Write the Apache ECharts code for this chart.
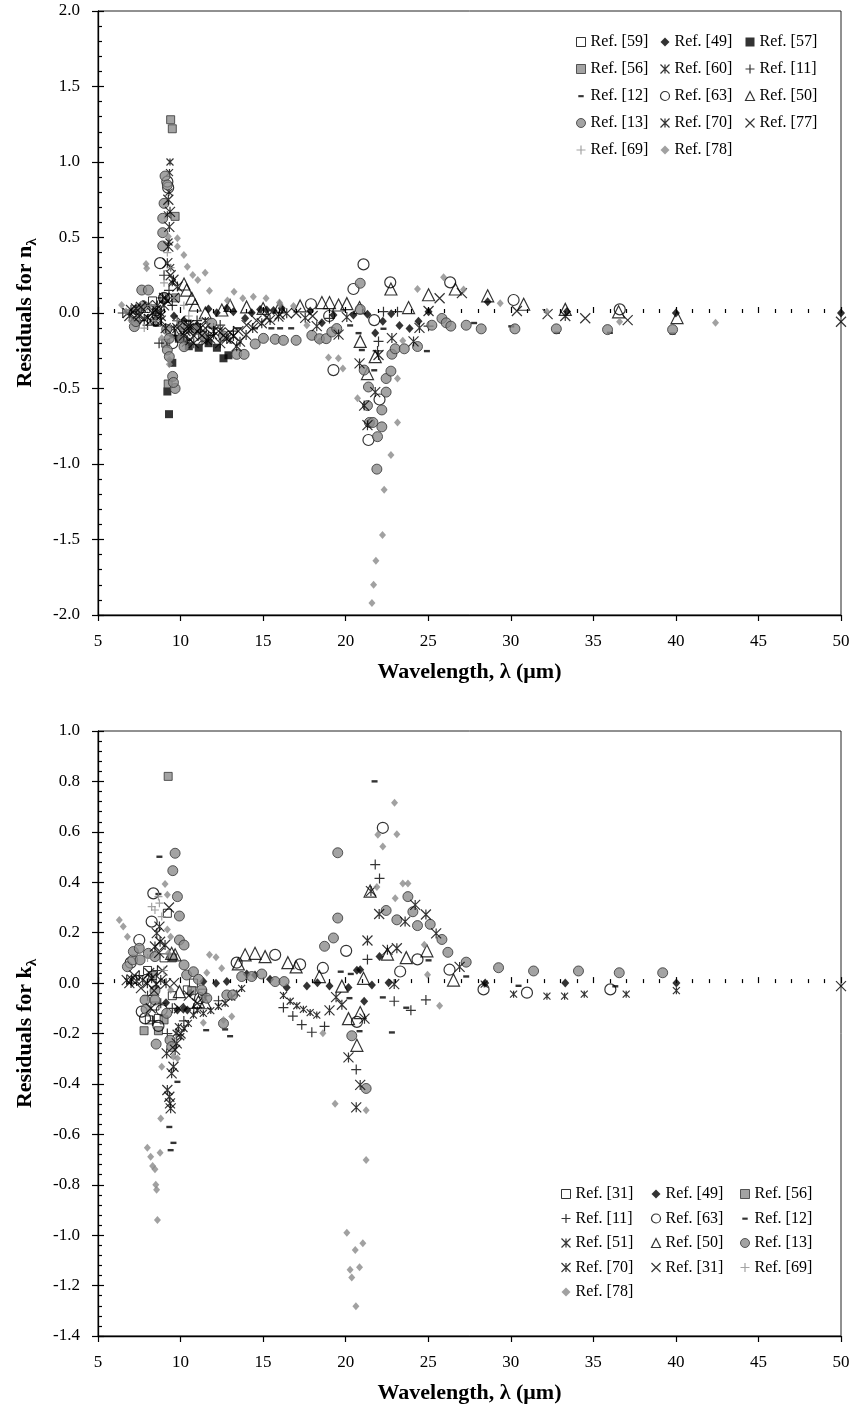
<!DOCTYPE html>
<html>
<head>
<meta charset="utf-8">
<script src="https://cdn.jsdelivr.net/npm/echarts@6.0.0/dist/echarts.min.js"></script>
<style>
html, body { margin: 0; padding: 0; background: #fff; }
#chart { width: 854px; height: 1421px; }
</style>
</head>
<body>
<div id="chart"></div>
<script>
// axis ranges [min, max, interval]
var xRange = [5, 50, 5];
var nRange = [-2, 2, 0.5];
var kRange = [-1.4, 1.0, 0.2];

// ---- top panel: residuals for n ----
var n59 = [[7.9,0.03],[8.3,0.08],[8.6,-0.06],[9.0,0.1],[9.4,-0.12],[10.1,-0.08],[10.9,-0.1],[11.8,-0.12]];
var n49 = [[9.6,-0.02],[10.2,-0.05],[11.0,-0.08],[11.69,0.027],[12.19,0.002],[12.8,0.031],[13.2,0.009],[13.91,-0.035],[14.31,0.002],[14.82,0.024],[15.22,0.02],[15.63,0.016],[16.13,0.031],[17.85,0.013],[18.56,-0.065],[19.26,-0.014],[20.47,-0.014],[21.32,-0.009],[21.79,-0.132],[22.25,-0.054],[22.76,-0.005],[23.26,-0.083],[23.87,-0.103],[24.41,-0.054],[25.02,0.009],[28.6,0.075],[33.4,0.01],[40.0,0.0],[50.0,0.0]];
var n57 = [[9.3,-0.67],[9.2,-0.52],[9.5,-0.33],[9.9,-0.17],[10.5,-0.22],[11.1,-0.23],[11.7,-0.2],[12.2,-0.23],[12.6,-0.3],[12.9,-0.28]];
var n56 = [[9.4,1.28],[9.5,1.22],[9.67,0.64],[9.25,-0.47],[9.1,-0.2],[9.7,0.1],[8.6,0.02]];
var n60 = [[7.5,0.02],[8.0,-0.03],[9.36,1.0],[9.33,0.93],[9.3,0.8],[9.2,0.65],[9.3,0.47],[9.4,0.3],[9.5,0.2],[9.1,0.1],[8.8,0.0],[8.5,-0.05],[9.6,-0.1],[10.0,-0.15],[10.3,-0.2],[10.5,-0.12],[11.0,-0.1],[11.3,-0.18],[11.5,-0.05],[12.0,-0.15],[12.5,-0.12],[13.0,-0.18]];
var n11 = [[6.5,0.0],[7.0,0.02],[7.5,-0.05],[7.8,0.05],[8.0,-0.08],[8.5,0.0],[8.7,-0.2],[8.9,0.1],[9.0,0.25],[9.3,0.15],[9.5,0.05],[9.7,-0.15],[9.8,-0.05],[10.2,-0.1],[10.4,-0.18],[10.6,-0.08],[11.0,-0.05],[11.2,-0.12],[11.7,-0.15],[12.0,-0.1],[12.4,-0.08],[13.2,-0.12],[19.02,-0.036],[21.93,-0.251],[21.99,-0.188],[22.29,0.009],[23.14,0.009],[25.02,-0.087]];
var n12 = [[8.5,-0.08],[9.5,-0.15],[10.5,-0.05],[13.5,-0.1],[14.5,-0.1],[15.5,-0.1],[16.03,-0.1],[16.7,-0.1],[20.27,-0.081],[20.78,-0.132],[20.98,-0.244],[21.73,-0.378],[22.29,-0.103],[24.92,-0.251],[27.78,-0.065],[30.03,-0.087],[32.79,-0.13],[36.0,-0.13],[39.8,-0.135]];
var n63 = [[9.2,0.87],[9.25,0.83],[8.76,0.33],[9.0,0.1],[8.5,-0.05],[9.5,-0.2],[17.9,0.058],[19.0,-0.02],[19.26,-0.378],[20.47,0.159],[21.08,0.322],[21.73,-0.047],[22.05,-0.573],[21.38,-0.841],[22.7,0.203],[26.33,0.203],[30.17,0.086],[36.6,0.024]];
var n50 = [[10.21,0.192],[10.37,0.152],[10.68,0.097],[10.88,0.053],[11.5,0.0],[12.5,0.02],[13.0,0.05],[14.0,0.04],[15.0,0.03],[16.0,0.04],[17.24,0.047],[18.56,0.069],[19.02,0.069],[19.57,0.053],[20.07,0.062],[20.84,0.036],[20.88,-0.188],[21.32,-0.401],[21.79,-0.289],[22.74,0.159],[23.81,0.036],[25.02,0.121],[26.64,0.159],[28.6,0.114],[30.78,0.058],[33.3,0.024],[36.53,0.008],[40.07,-0.03]];
var n13 = [[9.06,0.907],[9.2,0.848],[9.0,0.726],[8.92,0.627],[8.92,0.532],[8.92,0.444],[7.65,0.152],[8.05,0.152],[7.75,0.047],[7.34,0.02],[7.2,-0.09],[7.3,-0.057],[9.16,-0.108],[9.32,-0.168],[9.2,-0.245],[9.32,-0.289],[9.52,-0.42],[9.67,-0.5],[9.57,-0.46],[10.07,-0.168],[10.21,-0.223],[10.13,-0.09],[10.98,-0.108],[11.38,-0.152],[11.89,-0.068],[12.6,-0.152],[13.4,-0.274],[13.85,-0.274],[14.52,-0.205],[15.02,-0.168],[15.73,-0.174],[16.23,-0.181],[17.0,-0.181],[17.95,-0.148],[18.41,-0.17],[18.82,-0.17],[19.16,-0.126],[19.46,-0.103],[20.88,0.197],[20.88,0.024],[21.12,-0.378],[21.38,-0.49],[21.32,-0.613],[21.44,-0.725],[21.65,-0.725],[21.93,-0.819],[21.89,-1.034],[22.19,-0.642],[22.19,-0.754],[22.45,-0.434],[22.45,-0.524],[22.74,-0.385],[22.8,-0.273],[23.0,-0.237],[23.55,-0.237],[24.35,-0.222],[25.22,-0.081],[25.83,-0.036],[26.09,-0.065],[26.37,-0.087],[27.3,-0.081],[28.21,-0.105],[30.25,-0.105],[32.76,-0.105],[35.86,-0.11],[39.8,-0.11]];
var n70 = [[6.9,-0.02],[7.3,0.03],[7.8,-0.04],[8.3,0.0],[8.6,0.05],[8.8,-0.05],[9.0,0.05],[9.1,-0.1],[9.26,0.75],[9.36,0.67],[9.32,0.57],[9.26,0.44],[9.2,0.33],[9.57,0.22],[9.81,0.175],[10.2,-0.15],[10.5,-0.08],[10.8,-0.2],[11.2,-0.1],[11.6,-0.18],[12.0,-0.12],[12.4,-0.2],[12.8,-0.17],[13.2,-0.152],[13.4,-0.22],[13.6,-0.19],[13.97,-0.145],[14.37,-0.1],[14.92,-0.068],[15.42,-0.046],[15.93,-0.024],[16.43,-0.002],[17.55,-0.032],[18.25,-0.087],[19.57,-0.143],[20.07,-0.027],[20.84,-0.334],[21.12,-0.613],[21.32,-0.743],[21.79,-0.524],[21.99,-0.278],[22.8,-0.166],[24.11,-0.188],[24.47,-0.099],[33.3,-0.02]];
var n77 = [[6.8,0.0],[7.0,0.02],[7.2,-0.03],[7.5,-0.02],[7.6,0.04],[8.0,0.05],[8.2,-0.05],[8.5,0.02],[8.8,-0.02],[9.0,0.1],[9.2,0.08],[9.4,0.25],[9.6,0.1],[9.8,-0.1],[10.0,-0.05],[10.3,-0.12],[10.5,-0.1],[10.6,-0.18],[10.8,-0.15],[11.0,-0.12],[11.3,-0.15],[11.5,-0.1],[11.8,-0.17],[12.3,-0.12],[12.6,-0.15],[13.0,-0.13],[13.5,-0.12],[14.0,-0.08],[14.6,-0.05],[15.2,-0.03],[16.0,-0.01],[17.0,0.0],[18.0,-0.02],[25.02,0.013],[25.69,0.098],[27.04,0.132],[30.37,0.013],[32.23,-0.007],[34.51,-0.035],[37.08,-0.047],[50.0,-0.058]];
var n69 = [[7.8,-0.1],[8.2,0.05],[8.5,-0.05],[9.0,0.2],[9.2,0.4],[9.4,0.3],[9.6,0.1],[9.8,-0.05],[10.2,0.05],[10.5,-0.02]];
var n78 = [[6.43,0.053],[6.7,0.01],[7.0,-0.05],[7.91,0.325],[7.95,0.296],[8.86,-0.167],[9.26,0.506],[9.32,-0.31],[9.32,-0.34],[9.81,0.495],[9.81,0.44],[10.2,0.384],[10.41,0.307],[10.74,0.252],[11.04,0.219],[11.49,0.267],[11.75,0.148],[12.84,0.082],[13.24,0.141],[13.77,0.097],[14.41,0.108],[15.18,0.097],[15.99,0.069],[16.03,0.058],[16.84,0.047],[17.65,-0.081],[18.41,-0.188],[18.96,-0.295],[19.56,-0.3],[19.83,-0.367],[20.72,-0.564],[21.59,-1.92],[21.69,-1.8],[21.83,-1.64],[22.23,-1.47],[22.33,-1.17],[22.74,-0.94],[23.14,-0.725],[23.14,-0.434],[23.46,-0.184],[24.35,0.159],[25.93,0.237],[27.14,0.156],[29.36,0.064],[32.19,0.008],[36.59,-0.058],[42.4,-0.064]];

// ---- bottom panel: residuals for k ----
var k31 = [[8.0,0.05],[8.11,-0.146],[8.45,-0.091],[8.66,-0.14],[9.0,0.1],[9.2,0.277],[9.5,-0.05],[10.41,-0.027],[10.78,0.0],[11.34,-0.04]];
var k49 = [[9.12,-0.078],[9.81,-0.107],[10.21,-0.1],[10.41,-0.107],[10.58,-0.04],[11.38,0.006],[12.15,-0.001],[12.8,0.006],[14.01,0.036],[14.51,0.032],[15.42,0.015],[16.43,-0.018],[17.65,-0.012],[18.29,0.001],[19.02,-0.012],[20.17,-0.018],[20.68,0.051],[20.88,0.053],[21.12,-0.072],[21.59,-0.008],[22.05,0.105],[22.6,0.001],[28.45,0.0],[33.3,0.0],[40.03,0.0]];
var k56 = [[9.25,0.82],[7.79,-0.189],[8.66,-0.189],[9.0,-0.146],[10.68,-0.03],[8.3,0.03],[9.5,0.1]];
var k11 = [[7.0,0.0],[7.5,0.03],[8.0,-0.05],[8.3,-0.15],[8.6,0.05],[8.8,-0.08],[9.2,-0.2],[9.5,-0.1],[10.2,-0.15],[10.8,-0.1],[11.5,-0.05],[12.3,-0.07],[16.23,-0.097],[16.8,-0.131],[17.34,-0.165],[17.95,-0.195],[18.72,-0.172],[20.64,-0.343],[21.32,0.094],[21.79,0.47],[22.05,0.415],[22.94,-0.072],[23.95,-0.108],[24.86,-0.067]];
var k63 = [[6.98,0.081],[7.5,0.171],[7.65,-0.113],[7.85,-0.14],[8.25,0.244],[8.35,0.356],[8.66,-0.17],[8.86,-0.107],[11.18,-0.06],[13.4,0.081],[15.73,0.112],[17.24,0.074],[18.62,0.06],[20.03,0.128],[20.68,-0.154],[22.25,0.616],[23.3,0.046],[24.35,0.094],[26.29,0.053],[28.35,-0.025],[30.98,-0.038],[36.03,-0.025]];
var k12 = [[8.66,0.354],[8.72,0.502],[9.32,-0.57],[9.4,-0.662],[9.57,-0.633],[9.81,-0.391],[11.55,-0.186],[12.7,-0.183],[13.0,-0.21],[19.7,0.046],[20.23,-0.059],[20.31,0.037],[20.84,-0.19],[21.75,0.801],[22.25,-0.056],[22.8,-0.195],[23.67,-0.097],[25.02,0.091],[27.3,0.027],[30.47,-0.01],[36.33,-0.012]];
var k51 = [[9.73,-0.199],[9.87,-0.173],[10.01,-0.213],[10.21,-0.18],[10.47,-0.16],[10.78,-0.127],[11.02,-0.107],[11.38,-0.12],[11.83,-0.109],[12.29,-0.093],[12.7,-0.08],[13.1,-0.056],[13.4,-0.04],[13.7,-0.021],[16.23,-0.049],[16.64,-0.072],[17.04,-0.09],[17.44,-0.104],[17.85,-0.117],[18.25,-0.127],[28.39,-0.004],[30.17,-0.044],[32.19,-0.052],[33.26,-0.052],[34.45,-0.044],[36.99,-0.044],[40.03,-0.03]];
var k50 = [[9.46,0.118],[9.67,0.112],[9.93,-0.034],[11.08,-0.074],[11.48,-0.078],[13.5,0.076],[13.91,0.112],[14.51,0.118],[15.12,0.105],[16.5,0.081],[17.0,0.064],[18.41,0.026],[19.77,-0.012],[20.17,-0.141],[20.68,-0.247],[20.88,-0.117],[21.08,0.019],[21.48,0.365],[22.53,0.115],[23.67,0.101],[24.92,0.128],[26.53,0.012]];
var k13 = [[6.78,0.065],[7.1,0.092],[7.14,0.125],[7.5,0.138],[7.55,0.092],[7.85,-0.067],[7.91,-0.104],[8.05,0.118],[8.45,0.105],[8.45,-0.03],[8.45,-0.067],[8.52,-0.242],[9.16,-0.12],[9.36,-0.226],[9.46,-0.252],[9.53,0.446],[9.67,0.515],[9.81,0.343],[9.93,0.266],[9.93,0.171],[10.21,0.151],[10.21,0.072],[10.37,0.032],[10.78,0.045],[11.08,0.015],[11.28,-0.027],[11.59,-0.06],[12.6,-0.16],[12.8,-0.047],[13.16,-0.047],[13.7,0.026],[14.31,0.026],[14.92,0.036],[15.73,0.006],[16.27,0.006],[18.72,0.146],[19.26,0.179],[19.52,0.258],[19.52,0.517],[20.37,-0.209],[21.24,-0.418],[22.45,0.288],[23.1,0.251],[23.77,0.343],[24.07,0.283],[24.35,0.228],[25.12,0.233],[25.83,0.173],[26.19,0.122],[27.3,0.083],[29.26,0.061],[31.38,0.048],[34.1,0.048],[36.57,0.041],[39.2,0.041]];
var k70 = [[6.74,0.012],[7.04,0.015],[7.34,0.008],[7.71,0.012],[7.99,-0.001],[8.25,0.019],[8.45,0.145],[8.52,-0.004],[8.56,0.198],[8.72,0.224],[8.76,0.164],[8.8,0.012],[9.06,0.151],[9.12,-0.001],[9.16,-0.279],[9.2,-0.424],[9.32,-0.451],[9.36,-0.477],[9.4,-0.497],[9.46,-0.358],[9.57,-0.332],[9.67,-0.265],[9.77,-0.239],[19.02,-0.108],[19.42,-0.056],[19.77,-0.086],[20.17,-0.295],[20.64,-0.493],[20.88,-0.404],[21.14,-0.141],[21.32,0.169],[21.53,0.365],[22.03,0.274],[22.53,0.132],[22.94,-0.004],[23.1,0.138],[23.6,0.244],[24.21,0.31],[24.86,0.272],[25.48,0.197],[26.9,0.064]];
var k31x = [[6.9,0.0],[7.2,0.03],[7.6,-0.02],[8.1,0.04],[8.2,-0.1],[8.4,-0.03],[8.7,0.12],[8.9,0.05],[9.3,0.3],[9.6,0.0],[9.9,-0.1],[10.0,-0.2],[10.5,-0.05],[11.0,-0.08],[50.0,-0.012]];
var k69 = [[8.0,0.1],[8.25,0.303],[8.45,0.29],[8.66,0.343],[8.72,0.317],[8.86,0.264],[9.0,0.05]];
var k78 = [[6.29,0.25],[6.53,0.224],[6.78,0.184],[9.06,0.393],[9.2,0.35],[9.2,0.213],[9.4,0.184],[9.26,0.118],[9.4,-0.027],[11.75,0.112],[12.15,0.102],[12.49,0.059],[11.59,0.041],[8.8,-0.537],[7.99,-0.653],[8.19,-0.689],[8.76,-0.673],[8.31,-0.726],[8.45,-0.739],[8.5,-0.8],[8.55,-0.82],[8.6,-0.94],[9.57,-0.292],[8.86,-0.332],[9.81,-0.298],[13.1,-0.133],[11.38,-0.157],[12.6,-0.146],[18.62,-0.199],[19.36,-0.479],[20.07,-0.99],[20.27,-1.137],[20.37,-1.168],[20.58,-1.059],[20.62,-1.282],[20.84,-1.127],[21.04,-1.032],[21.24,-0.504],[21.24,-0.702],[21.89,0.381],[21.95,0.588],[22.25,0.542],[22.96,0.715],[23.0,0.337],[23.1,0.59],[23.46,0.395],[23.77,0.395],[24.76,0.152],[24.96,0.033],[25.69,-0.09]];

var font = 'Liberation Serif';

// marker shapes
var PLUS = 'path://M5 0L5 10M0 5L10 5';
var CROSS = 'path://M0 0L10 10M10 0L0 10';
var STAR = 'path://M0 0L10 10M10 0L0 10M5 0L5 10';
var DASH = 'path://M0 0M10 10M2 4L8 4L8 6.4L2 6.4Z';

var st = {
    openSq:   {color: '#fff', borderColor: '#000', borderWidth: 1},
    blackDia: {color: '#000'},
    blackSq:  {color: '#000'},
    graySq:   {color: '#8c8c8c', borderColor: '#333', borderWidth: 1},
    line:     {color: 'none', borderColor: '#000', borderWidth: 1.2},
    dash:     {color: '#000'},
    open:     {color: 'none', borderColor: '#000', borderWidth: 1.2},
    grayCirc: {color: '#8c8c8c', borderColor: '#333', borderWidth: 1},
    grayPlus: {color: 'none', borderColor: '#8c8c8c', borderWidth: 1.2},
    grayDia:  {color: '#8a8a8a'}
};

function sc(name, data, g, symbol, size, style) {
    return {
        type: 'scatter', name: name, data: data,
        xAxisIndex: g * 2, yAxisIndex: g * 2,
        symbol: symbol, symbolSize: size, itemStyle: style,
        emphasis: {disabled: true}
    };
}

var series = [
    sc('Ref. [59]', n59, 0, 'rect', 8, st.openSq),
    sc('Ref. [49]', n49, 0, 'diamond', [8, 9], st.blackDia),
    sc('Ref. [57]', n57, 0, 'rect', 8, st.blackSq),
    sc('Ref. [56]', n56, 0, 'rect', 8, st.graySq),
    sc('Ref. [60]', n60, 0, STAR, 7, st.line),
    sc('Ref. [11]', n11, 0, PLUS, 10, st.line),
    sc('Ref. [12]', n12, 0, DASH, 10, st.dash),
    sc('Ref. [63]', n63, 0, 'circle', 11, st.open),
    sc('Ref. [50]', n50, 0, 'triangle', 12, st.open),
    sc('Ref. [13]', n13, 0, 'circle', 10, st.grayCirc),
    sc('Ref. [70]', n70, 0, STAR, 10, st.line),
    sc('Ref. [77]', n77, 0, CROSS, 10, st.line),
    sc('Ref. [69]', n69, 0, PLUS, 8, st.grayPlus),
    sc('Ref. [78]', n78, 0, 'diamond', [7, 8], st.grayDia),

    sc('Ref. [31]', k31, 1, 'rect', 8, st.openSq),
    sc('Ref. [49]', k49, 1, 'diamond', [8, 9], st.blackDia),
    sc('Ref. [56]', k56, 1, 'rect', 8, st.graySq),
    sc('Ref. [11]', k11, 1, PLUS, 10, st.line),
    sc('Ref. [63]', k63, 1, 'circle', 11, st.open),
    sc('Ref. [12]', k12, 1, DASH, 10, st.dash),
    sc('Ref. [51]', k51, 1, STAR, 7, st.line),
    sc('Ref. [50]', k50, 1, 'triangle', 12, st.open),
    sc('Ref. [13]', k13, 1, 'circle', 10, st.grayCirc),
    sc('Ref. [70]', k70, 1, STAR, 10, st.line),
    sc('Ref. [31] ', k31x, 1, CROSS, 10, st.line),
    sc('Ref. [69]', k69, 1, PLUS, 8, st.grayPlus),
    sc('Ref. [78]', k78, 1, 'diamond', [7, 8], st.grayDia)
];

var tickLine = {color: '#000', width: 1.2};

// axis with labels and outward major ticks
function labelAxis(g, r, pos, name, gap) {
    return {
        type: 'value', gridIndex: g, position: pos,
        min: r[0], max: r[1], interval: r[2],
        axisLine: {show: true, onZero: false, lineStyle: {color: '#000', width: 1.3}},
        axisTick: {show: true, inside: false, length: 6, lineStyle: tickLine},
        minorTick: {show: false},
        splitLine: {show: false},
        axisLabel: {
            fontFamily: font, fontSize: 17, color: '#000', margin: 18,
            formatter: pos === 'left' ? function (v) { return v.toFixed(1); } : null
        },
        name: name, nameLocation: 'middle', nameGap: gap,
        nameTextStyle: {
            fontFamily: font, fontWeight: 'bold', fontSize: 22, color: '#000',
            rich: {
                t: {fontFamily: font, fontWeight: 'bold', fontSize: 22, color: '#000', lineHeight: 30},
                s: {fontFamily: font, fontWeight: 'bold', fontSize: 15, color: '#000', lineHeight: 15, verticalAlign: 'bottom'}
            }
        }
    };
}
// twin axis: inward major + minor ticks only
function tickAxis(g, r, pos) {
    return {
        type: 'value', gridIndex: g, position: pos,
        min: r[0], max: r[1], interval: r[2],
        axisLine: {show: false},
        axisLabel: {show: false},
        axisTick: {show: true, inside: true, length: 6, lineStyle: tickLine},
        minorTick: {show: true, splitNumber: 5, length: 4, lineStyle: tickLine},
        splitLine: {show: false}
    };
}

function legendCol(names, left, top, gap) {
    return {
        data: names, orient: 'vertical', left: left, top: top,
        itemGap: gap, itemWidth: 9, itemHeight: 9, padding: 0,
        selectedMode: false,
        itemStyle: {borderWidth: 'inherit'},
        textStyle: {fontFamily: font, fontSize: 16, color: '#000'},
        formatter: function (n) { return n.trim(); }
    };
}

var xName = 'Wavelength, λ (μm)';

var option = {
    animation: false,
    backgroundColor: '#fff',
    grid: [
        {left: 98, right: 13, top: 11, height: 604, show: true, borderColor: '#222', borderWidth: 1},
        {left: 98, right: 13, top: 731, height: 605, show: true, borderColor: '#222', borderWidth: 1}
    ],
    xAxis: [
        labelAxis(0, xRange, 'bottom', xName, 46),
        tickAxis(0, xRange, 'bottom'),
        labelAxis(1, xRange, 'bottom', xName, 46),
        tickAxis(1, xRange, 'bottom')
    ],
    yAxis: [
        labelAxis(0, nRange, 'left', '{t|Residuals for n}{s|λ}', 58),
        tickAxis(0, nRange, 'left'),
        labelAxis(1, kRange, 'left', '{t|Residuals for k}{s|λ}', 58),
        tickAxis(1, kRange, 'left')
    ],
    legend: [
        legendCol(['Ref. [59]', 'Ref. [56]', 'Ref. [12]', 'Ref. [13]', 'Ref. [69]'], 574, 34, 11),
        legendCol(['Ref. [49]', 'Ref. [60]', 'Ref. [63]', 'Ref. [70]', 'Ref. [78]'], 658, 34, 11),
        legendCol(['Ref. [57]', 'Ref. [11]', 'Ref. [50]', 'Ref. [77]'], 743, 34, 11),
        legendCol(['Ref. [31]', 'Ref. [11]', 'Ref. [51]', 'Ref. [70]', 'Ref. [78]'], 559, 1186, 8.5),
        legendCol(['Ref. [49]', 'Ref. [63]', 'Ref. [50]', 'Ref. [31] '], 649, 1186, 8.5),
        legendCol(['Ref. [56]', 'Ref. [12]', 'Ref. [13]', 'Ref. [69]'], 738, 1186, 8.5)
    ],
    series: series
};

var myChart = echarts.init(document.getElementById('chart'));
myChart.setOption(option);
</script>
</body>
</html>
